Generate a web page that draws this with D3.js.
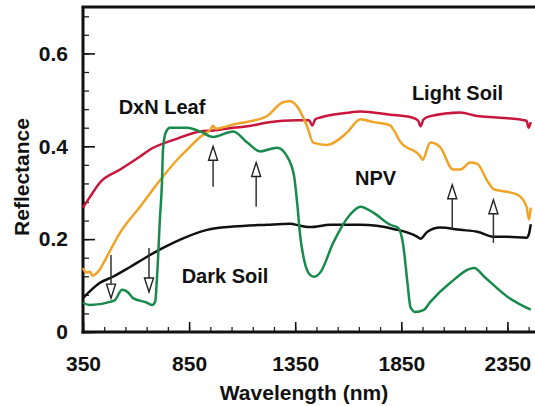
<!DOCTYPE html>
<html>
<head>
<meta charset="utf-8">
<script src="https://cdn.jsdelivr.net/npm/d3@7"></script>
<style>
  body { margin: 0; background: #fff; }
  text { font-family: "Liberation Sans", Arial, Helvetica, sans-serif; font-weight: bold; fill: #111; }
</style>
</head>
<body>
<div class="chart"></div>
<script>
// ticks
const xMajor = [350, 850, 1350, 1850, 2350]
const xMinor = d3.range(350, 2460, 100)
const yMajor = [0, 0.2, 0.4, 0.6]
const yMinor = d3.range(0, 0.7, 0.04)
const yLabels = ['0', '0.2', '0.4', '0.6']

// spectra: [wavelength nm, reflectance]
const lightSoil = [
  [350, .268], [383, .291], [430, .322], [525, .350], [619, .378], [666, .393],
  [784, .415], [902, .432], [963, .434], [1058, .440], [1124, .443], [1218, .451],
  [1359, .456], [1415, .456], [1430, .445], [1445, .458], [1468, .462], [1609, .473],
  [1657, .475], [1798, .468], [1900, .462], [1930, .455], [1940, .443], [1955, .458],
  [1987, .465], [2128, .473], [2208, .465], [2300, .462], [2440, .455], [2450, .440],
  [2460, .452]
]
const npv = [
  [350, .138], [365, .128], [383, .130], [395, .121], [407, .124], [430, .135],
  [454, .155], [525, .214], [619, .270], [727, .335], [808, .378], [841, .393],
  [902, .420], [950, .436], [963, .444], [975, .438], [1058, .447], [1213, .464],
  [1293, .495], [1326, .497], [1359, .486], [1406, .443], [1435, .408], [1500, .403],
  [1595, .430], [1657, .458], [1720, .452], [1798, .445], [1810, .438], [1845, .410],
  [1940, .378], [1950, .371], [1987, .408], [2033, .398], [2094, .350], [2128, .350],
  [2175, .365], [2208, .362], [2260, .322], [2288, .307], [2350, .302], [2400, .295],
  [2440, .270], [2452, .242], [2460, .268]
]
const darkSoil = [
  [350, .073], [430, .106], [491, .119], [572, .140], [652, .162], [727, .181],
  [808, .199], [935, .220], [1058, .227], [1218, .231], [1326, .233], [1374, .229],
  [1420, .226], [1515, .231], [1657, .231], [1813, .222], [1926, .205], [1940, .201],
  [1973, .216], [2033, .225], [2128, .220], [2208, .216], [2288, .205], [2350, .205],
  [2440, .203], [2452, .212], [2460, .232]
]
const leaf = [
  [350, .063], [383, .058], [477, .065], [501, .069], [534, .091], [558, .087],
  [586, .073], [652, .063], [676, .058], [690, .065], [699, .119], [713, .248],
  [722, .320], [727, .393], [740, .430], [760, .440], [841, .440], [902, .432],
  [963, .420], [1058, .432], [1124, .408], [1185, .389], [1265, .397], [1312, .378],
  [1345, .335], [1359, .279], [1374, .205], [1392, .155], [1420, .123], [1440, .119],
  [1468, .128], [1529, .192], [1609, .253], [1657, .270], [1718, .257], [1798, .231],
  [1836, .224], [1860, .184], [1879, .106], [1893, .054], [1916, .043], [1954, .047],
  [1987, .065], [2081, .106], [2194, .138], [2241, .119], [2350, .076], [2460, .048]
]

// absorption feature arrows: wavelength, tail, head
const arrows = [
  [482, .166, .073], [661, .181, .086],
  [963, .313, .400], [1166, .270, .365],
  [2090, .220, .317], [2284, .192, .285]
]

const series = [
  { data: lightSoil, color: '#c8163c' },
  { data: npv, color: '#f0a326' },
  { data: darkSoil, color: '#111111' },
  { data: leaf, color: '#188a4c' }
]

const notes = [
  { text: 'DxN Leaf', wl: 518, r: .47 },
  { text: 'Light Soil', wl: 1900, r: .50 },
  { text: 'NPV', wl: 1632, r: .317 },
  { text: 'Dark Soil', wl: 815, r: .106 }
]

const width = 535
const height = 406

const x = d3.scaleLinear().domain([350, 2480]).range([83, 535])
const y = d3.scaleLinear().domain([0, 0.7]).range([332, 7])

const svg = d3.select('.chart').append('svg')
  .attr('width', width)
  .attr('height', height)

// minor ticks
svg.append('g')
  .attr('transform', `translate(0,${y(0)})`)
  .call(d3.axisBottom(x).tickValues(xMinor).tickSize(-5).tickFormat(''))
  .call(g => g.select('.domain').remove())
  .call(g => g.selectAll('line').attr('stroke', '#222').attr('stroke-width', 1.3))

svg.append('g')
  .attr('transform', `translate(${x(350)},0)`)
  .call(d3.axisLeft(y).tickValues(yMinor).tickSize(-6).tickFormat(''))
  .call(g => g.select('.domain').remove())
  .call(g => g.selectAll('line').attr('stroke', '#222').attr('stroke-width', 1.3))

// major ticks + labels
svg.append('g')
  .attr('transform', `translate(0,${y(0)})`)
  .call(d3.axisBottom(x).tickValues(xMajor).tickSize(-10).tickPadding(24).tickFormat(d3.format('d')))
  .call(g => g.select('.domain').remove())
  .call(g => g.selectAll('line').attr('stroke', '#111').attr('stroke-width', 1.6))
  .call(g => g.selectAll('text').attr('font-size', 21).attr('fill', '#111'))

svg.append('g')
  .attr('transform', `translate(${x(350)},0)`)
  .call(d3.axisLeft(y).tickValues(yMajor).tickSize(-12).tickPadding(15).tickFormat((d, i) => yLabels[i]))
  .call(g => g.select('.domain').remove())
  .call(g => g.selectAll('line').attr('stroke', '#111').attr('stroke-width', 1.6))
  .call(g => g.selectAll('text').attr('font-size', 21).attr('fill', '#111'))

// frame
const frame = svg.append('g').attr('stroke', '#111').attr('stroke-width', 3)
frame.append('line').attr('x1', x(350)).attr('x2', x(350)).attr('y1', y(0.7)).attr('y2', y(0) + 1.5)
frame.append('line').attr('x1', x(350) - 1.5).attr('x2', width).attr('y1', y(0)).attr('y2', y(0))
frame.append('line').attr('x1', x(350) - 1.5).attr('x2', width).attr('y1', y(0.7)).attr('y2', y(0.7))

// spectra
const line = d3.line()
  .x(d => x(d[0]))
  .y(d => y(d[1]))
  .curve(d3.curveMonotoneX)

svg.append('g')
  .selectAll('path')
  .data(series)
  .join('path')
    .attr('d', d => line(d.data))
    .attr('fill', 'none')
    .attr('stroke', d => d.color)
    .attr('stroke-width', 2.5)
    .attr('stroke-linejoin', 'round')

// arrows
const headLen = 14
const headW = 4.5
const arr = svg.append('g')
arrows.forEach(a => {
  const ax = x(a[0])
  const y0 = y(a[1])
  const y1 = y(a[2])
  const dir = y1 > y0 ? 1 : -1
  const base = y1 - dir * headLen
  arr.append('line')
    .attr('x1', ax).attr('x2', ax)
    .attr('y1', y0).attr('y2', base)
    .attr('stroke', '#333').attr('stroke-width', 1.5)
  arr.append('path')
    .attr('d', `M${ax - headW},${base}L${ax + headW},${base}L${ax},${y1}Z`)
    .attr('fill', '#fff').attr('stroke', '#222').attr('stroke-width', 1.4)
    .attr('stroke-linejoin', 'miter')
})

// curve labels
svg.append('g')
  .selectAll('text')
  .data(notes)
  .join('text')
    .attr('x', d => x(d.wl))
    .attr('y', d => y(d.r))
    .attr('font-size', 20)
    .text(d => d.text)

// axis titles
svg.append('text')
  .attr('x', 304)
  .attr('y', 400)
  .attr('text-anchor', 'middle')
  .attr('font-size', 21)
  .text('Wavelength (nm)')

svg.append('text')
  .attr('transform', 'translate(29,177) rotate(-90)')
  .attr('text-anchor', 'middle')
  .attr('font-size', 21)
  .text('Reflectance')
</script>
</body>
</html>
